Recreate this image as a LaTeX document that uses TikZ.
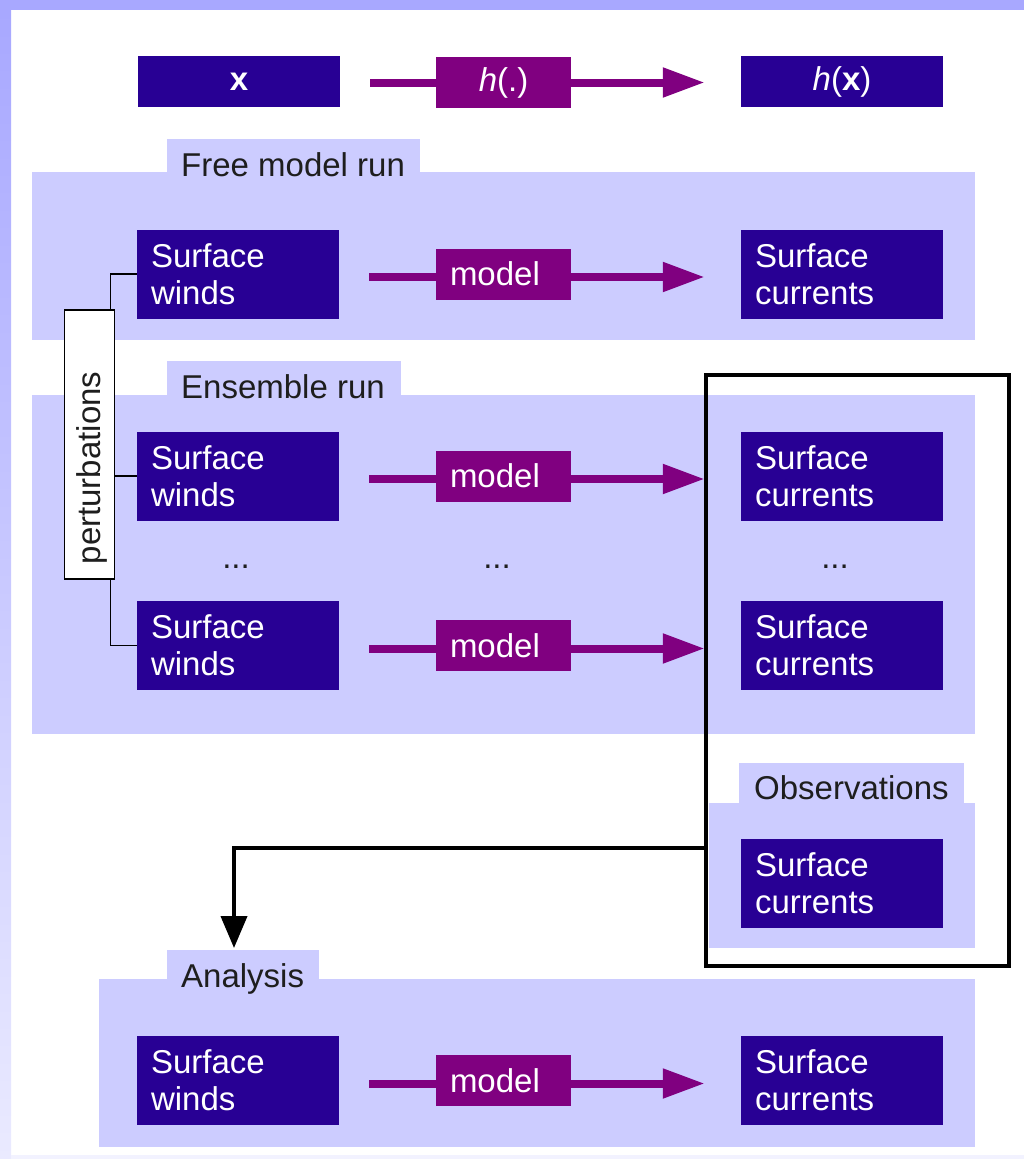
\documentclass[tikz,border=0pt]{standalone}
\usepackage{fontspec}
\setmainfont{Liberation Sans}
\usetikzlibrary{arrows.meta}
\definecolor{boxblue}{RGB}{40,0,148}
\definecolor{purp}{RGB}{128,0,128}
\definecolor{lav}{RGB}{204,204,255}
\definecolor{framec}{RGB}{168,168,255}
\definecolor{framelight}{RGB}{234,234,255}
\definecolor{botband}{RGB}{242,242,255}
\definecolor{darktext}{RGB}{30,30,30}
\begin{document}
\begin{tikzpicture}[x=1pt,y=-1pt,
  bigfont/.style={font=\fontsize{33}{37}\selectfont},
  darkbox/.style={bigfont, fill=boxblue, text=white, text width=174pt, inner xsep=14pt, inner ysep=0pt, minimum height=89pt, align=left},
  topbox/.style={bigfont, fill=boxblue, text=white, minimum width=202pt, minimum height=51pt, inner sep=0pt},
  opbox/.style={bigfont, fill=purp, text=white, minimum width=135pt, minimum height=51pt, inner sep=0pt},
  modelbox/.style={opbox, text width=107pt, inner xsep=14pt, align=left},
  flow/.style={draw=purp, line width=8pt, shorten <=30pt, shorten >=36pt, -{Triangle[length=42pt,width=28pt]}},
  titlelbl/.style={bigfont, text=darktext, anchor=base west, inner sep=0pt},
  dotlbl/.style={bigfont, text=darktext, inner sep=0pt},
  conn/.style={draw=black, line width=1.5pt},
  obsarrow/.style={draw=black, line width=4pt, -{Triangle[length=32pt,width=26pt]}}
]
\useasboundingbox (0,0) rectangle (1024,1159);
% background frame
\fill[white] (0,0) rectangle (1024,1159);
\fill[framec] (0,0) rectangle (1024,10);
\shade[top color=framec, bottom color=framelight] (0,10) rectangle (11,1159);
\fill[botband] (11,1155) rectangle (1024,1159);

% panels
\fill[lav] (167,139) rectangle (420,173);
\fill[lav] (32,172) rectangle (975,340);
\fill[lav] (167,361) rectangle (401,396);
\fill[lav] (32,395) rectangle (975,734);
\fill[lav] (739,763) rectangle (964,804);
\fill[lav] (709,803) rectangle (975,948);
\fill[lav] (167,950) rectangle (319,980);
\fill[lav] (99,979) rectangle (975,1147);

% titles
\node[titlelbl] (tfree) at (181,176) {Free model run};
\node[titlelbl] (tens) at (181,398) {Ensemble run};
\node[titlelbl] (tobs) at (754,799) {Observations};
\node[titlelbl] (tana) at (181,987) {Analysis};

% top row
\node[topbox] (xin) at (239,81.5) {\textbf{x}};
\node[topbox] (hx) at (842,81.5) {\textit{h}(\textbf{x})};

% dark boxes
\node[darkbox] (fw) at (238,274) {Surface\\winds};
\node[darkbox] (fc) at (842,274) {Surface\\currents};
\node[darkbox] (ew1) at (238,476) {Surface\\winds};
\node[darkbox] (ec1) at (842,476) {Surface\\currents};
\node[darkbox] (ew2) at (238,645.5) {Surface\\winds};
\node[darkbox] (ec2) at (842,645.5) {Surface\\currents};
\node[darkbox] (oc) at (842,883.5) {Surface\\currents};
\node[darkbox] (aw) at (238,1080.5) {Surface\\winds};
\node[darkbox] (ac) at (842,1080.5) {Surface\\currents};

% flow arrows
\draw[flow] ([yshift=-1pt]xin.east) -- ([yshift=-1pt]hx.west);
\draw[flow] ([yshift=-3pt]fw.east) -- ([yshift=-3pt]fc.west);
\draw[flow] ([yshift=-3pt]ew1.east) -- ([yshift=-3pt]ec1.west);
\draw[flow] ([yshift=-3pt]ew2.east) -- ([yshift=-3pt]ec2.west);
\draw[flow] ([yshift=-3pt]aw.east) -- ([yshift=-3pt]ac.west);

% operator boxes
\node[opbox] (hop) at (503.5,82.5) {\textit{h}(.)};
\node[modelbox] (m1) at (503.5,274) {model};
\node[modelbox] (m2) at (503.5,476) {model};
\node[modelbox] (m3) at (503.5,645.5) {model};
\node[modelbox] (m4) at (503.5,1080.5) {model};

% ellipses
\node[dotlbl] (d1) at (236,567) {...};
\node[dotlbl] (d2) at (497,567) {...};
\node[dotlbl] (d3) at (835,567) {...};

% perturbations
\node[draw=black, fill=white, line width=1.5pt, minimum width=50pt, minimum height=269pt, inner sep=0pt] (pert) at (89.5,444.5) {};
\node[bigfont, text=darktext, rotate=90, inner sep=0pt] (pertlbl) at (92,468) {perturbations};
\draw[conn] ([xshift=21pt]pert.north) |- (fw.west);
\draw[conn] (pert.east |- ew1.west) -- (ew1.west);
\draw[conn] ([xshift=21pt]pert.south) |- (ew2.west);

% observation frame and arrow
\node[draw=black, line width=4pt, minimum width=303pt, minimum height=591pt, inner sep=0pt] (obsframe) at (857.5,670.5) {};
\coordinate (oa) at (706,848);
\coordinate (ob) at (234,948);
\draw[obsarrow] (obsframe.west |- oa) -| (ob);
\end{tikzpicture}
\end{document}
